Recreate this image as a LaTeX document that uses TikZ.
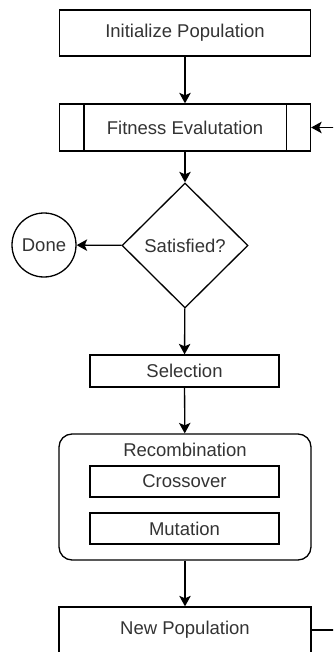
\documentclass[tikz,border=0pt]{standalone}
\usepackage{fontspec}
\setmainfont{Liberation Sans}
\usetikzlibrary{shapes.geometric,arrows.meta}
\tikzset{
  box/.style={draw,line width=1.3pt,text=black!80,minimum width=251pt,minimum height=46pt,inner sep=0pt},
  smallbox/.style={box,minimum width=189pt,minimum height=31pt},
  line/.style={line width=1.3pt}
}
\begin{document}
\begin{tikzpicture}[x=1pt,y=-1pt,>={Stealth[length=10.5pt,width=11.5pt,inset=2.5pt]},
                    font=\fontsize{18.5}{22}\selectfont]
                          \useasboundingbox (0,0) rectangle (333,652);
                          \clip (0,0) rectangle (333,652);
                          \node[box] (init) at (185,33) {Initialize Population};
                          \node[box,minimum height=47pt] (fit) at (185,127.5) {Fitness Evalutation};
                          \draw[line] ([xshift=25pt]fit.north west)--([xshift=25pt]fit.south west);
                          \draw[line] ([xshift=-25pt]fit.north east)--([xshift=-25pt]fit.south east);
                          \node[box,diamond,aspect=1,minimum width=126pt,minimum height=125pt] (sat) at (185,245.5) {Satisfied?};
                          \node[box,circle,minimum size=64pt,minimum width=64pt] (done) at (44,245) {Done};
                          \node[smallbox,minimum height=32pt] (sel) at (184.5,371) {Selection};
                          \node[box,rounded corners=13pt,minimum width=252pt,minimum height=126pt] (rec) at (185,497) {};
                          \node[text=black!80] (recl) at (185,450) {Recombination};
                          \node[smallbox] (cross) at (184.5,481.5) {Crossover};
                          \node[smallbox] (mut) at (184.5,528.5) {Mutation};
                          \node[box,minimum width=252pt] (newp) at (185,630) {New Population};
                          \coordinate (loop) at (350,127.5);
                          \draw[line,->] (init)--(fit);
                          \draw[line,->] (fit)--(sat);
                          \draw[line,->] (sat)--(done);
                          \draw[line,->] (sat)--(sel);
                          \draw[line,->] (sel)--(rec);
                          \draw[line,->] (rec)--(newp);
                          \draw[line,->] (newp.east)-|(loop)--(fit.east);
                      \end{tikzpicture}
\end{document}
